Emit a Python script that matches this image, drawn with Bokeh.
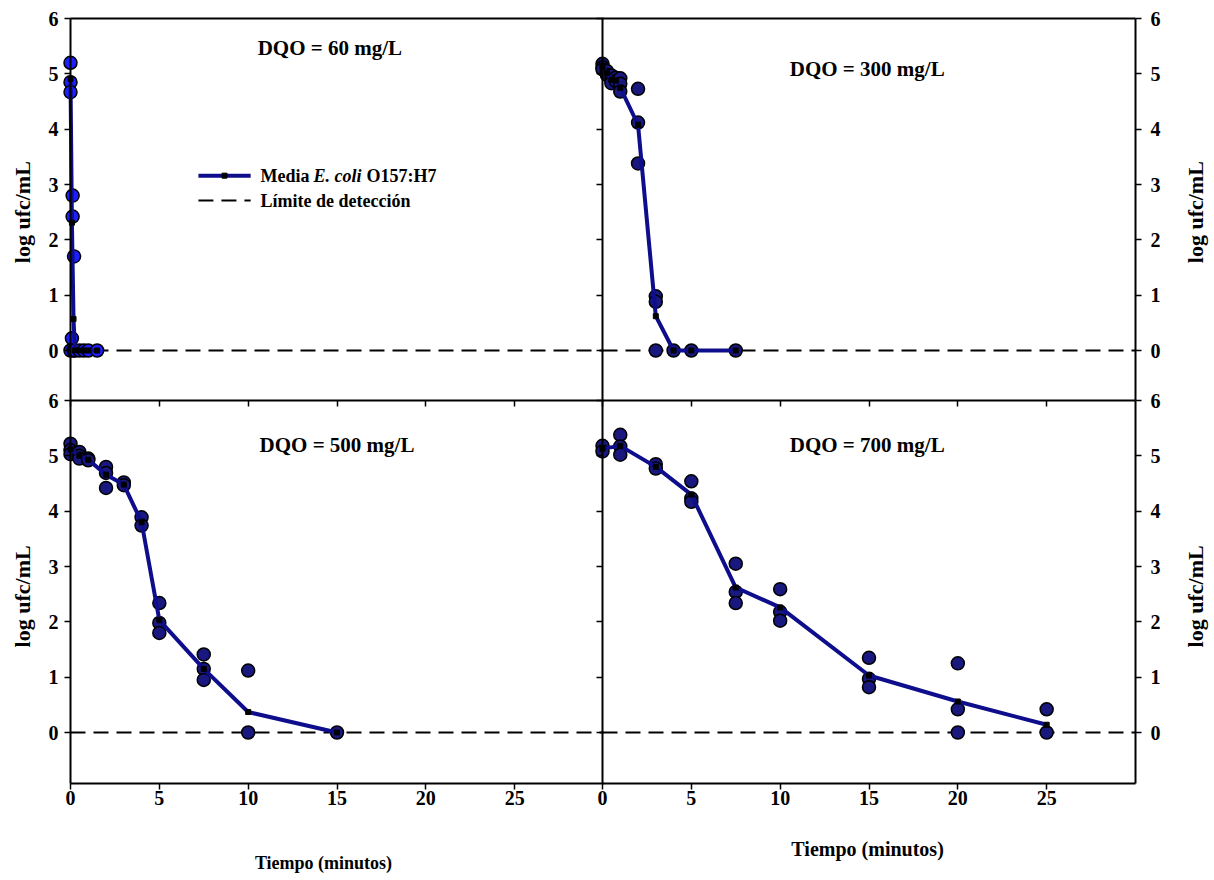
import math
from bokeh.plotting import figure
from bokeh.models import Range1d, LinearAxis, FixedTicker, Label
from bokeh.core.properties import value
from bokeh.embed import file_html
from bokeh.resources import INLINE

# ---------------- data ----------------
# DQO = 60 mg/L
T60 = [0, 0, 0, 0.12, 0.12, 0.2, 0.08, 0, 0.17, 0.25, 0.5, 0.75, 1.0, 1.5]
Y60 = [5.2, 4.85, 4.67, 2.8, 2.42, 1.7, 0.22, 0, 0, 0, 0, 0, 0, 0]
M60_T = [0, 0.08, 0.17, 0.25, 0.5, 0.75, 1.0, 1.5]
M60_Y = [4.91, 2.31, 0.57, 0, 0, 0, 0, 0]

# DQO = 300 mg/L
T300 = [0, 0, 0, 0.25, 0.25, 0.5, 0.5, 0.5, 0.75, 0.75, 1, 1, 1, 2, 2, 2, 3, 3, 3, 4, 5, 7.5]
Y300 = [5.18, 5.12, 5.08, 5.05, 4.98, 4.97, 4.88, 4.83, 4.93, 4.87, 4.92, 4.82, 4.68,
        4.73, 4.12, 3.38, 0.98, 0.88, 0, 0, 0, 0]
M300_T = [0, 0.25, 0.5, 0.75, 1, 2, 3, 4, 5, 7.5]
M300_Y = [5.13, 5.02, 4.89, 4.88, 4.75, 4.08, 0.62, 0, 0, 0]

# DQO = 500 mg/L
T500 = [0, 0, 0, 0.5, 0.5, 0.5, 1, 1, 2, 2, 2, 3, 3, 4, 4, 5, 5, 5, 7.5, 7.5, 7.5, 10, 10, 15]
Y500 = [5.22, 5.1, 5.03, 5.07, 5.0, 4.95, 4.95, 4.92, 4.8, 4.69, 4.42, 4.52, 4.47,
        3.89, 3.74, 2.34, 1.98, 1.8, 1.41, 1.15, 0.95, 1.12, 0, 0]
M500_T = [0, 0.5, 1, 2, 3, 4, 5, 7.5, 10, 15]
M500_Y = [5.12, 5.0, 4.93, 4.66, 4.48, 3.8, 2.03, 1.15, 0.37, 0]

# DQO = 700 mg/L
T700 = [0, 0, 1, 1, 1, 3, 3, 5, 5, 5, 7.5, 7.5, 7.5, 10, 10, 10, 15, 15, 15, 20, 20, 20, 25, 25]
Y700 = [5.18, 5.08, 5.38, 5.17, 5.02, 4.85, 4.77, 4.54, 4.23, 4.17, 3.05, 2.54, 2.34,
        2.59, 2.18, 2.02, 1.35, 0.97, 0.82, 1.25, 0.42, 0, 0.42, 0]
M700_T = [0, 1, 3, 5, 7.5, 10, 15, 20, 25]
M700_Y = [5.13, 5.18, 4.8, 4.3, 2.62, 2.26, 1.03, 0.56, 0.14]

LOD = 0  # límite de detección (log ufc/mL)
TITLES = ["DQO = 60 mg/L", "DQO = 300 mg/L", "DQO = 500 mg/L", "DQO = 700 mg/L"]
X_TICKS = [0, 5, 10, 15, 20, 25]
Y_TICKS = [0, 1, 2, 3, 4, 5, 6]
X_LABEL = "Tiempo (minutos)"
Y_LABEL = "log ufc/mL"
LEG_MEAN = ["Media", "E. coli", "O157:H7"]
LEG_LOD = "Límite de detección"

# ---------------- layout / style ----------------
FONT = "Liberation Serif"
LINE_C = "#0e0e8c"
FILL_C = "#18187f"
FILL_60 = "#1e1eff"

FIG_W, FIG_H = 1210, 876
KX = 533 / 30.0       # px per minute
KY = 332 / 6.0        # px per log unit
PX_L0, PX_R0 = 70, 602        # px of x=0 for left / right panels
PX_T6, PX_B6 = 18, 400        # px of y=6 for top / bottom panels
PX_BOTTOM = 783               # px of bottom frame line
XMAX = 30

xl = Range1d(-PX_L0 / KX, (FIG_W - PX_L0) / KX)
xr = Range1d(-PX_R0 / KX, (FIG_W - PX_R0) / KX)
yt = Range1d(6 - (FIG_H - PX_T6) / KY, 6 + PX_T6 / KY)
yb = Range1d(6 - (FIG_H - PX_B6) / KY, 6 + PX_B6 / KY)
YT_LOW = 6 - (PX_B6 - PX_T6) / KY
YB_LOW = 6 - (PX_BOTTOM - PX_B6) / KY

p = figure(width=FIG_W, height=FIG_H,
           x_range=xl, y_range=yt, output_backend="svg", toolbar_location=None,
           x_axis_location=None, y_axis_location=None,
           min_border=0, min_border_left=0, min_border_right=0,
           min_border_top=0, min_border_bottom=0)
p.extra_x_ranges = {"xr": xr}
p.extra_y_ranges = {"yb": yb}
p.outline_line_color = None
p.grid.grid_line_color = None
p.background_fill_color = "white"
p.border_fill_color = "white"


def add_axis(side, xname, yname, fixed, ticks, bounds, tick_in=0, tick_out=6,
             labels=True, standoff=6):
    kw = dict(x_range_name=xname, y_range_name=yname, fixed_location=fixed,
              ticker=FixedTicker(ticks=ticks), bounds=bounds,
              major_tick_in=tick_in, major_tick_out=tick_out,
              minor_tick_in=0, minor_tick_out=0,
              axis_line_width=2, axis_line_color="black",
              major_tick_line_width=1.5, major_tick_line_color="black",
              major_label_standoff=standoff,
              major_label_text_font=FONT, major_label_text_font_size="20px",
              major_label_text_font_style="bold", major_label_text_color="black")
    if not labels:
        kw["major_label_overrides"] = {t: "" for t in ticks}
    ax = LinearAxis(**kw)
    p.add_layout(ax, side)
    return ax


# left y axes (left panels, at x = 0)
add_axis("left", "default", "default", 0, Y_TICKS, (YT_LOW, 6))
add_axis("left", "default", "yb", 0, Y_TICKS, (YB_LOW, 6))
# middle y axes (right panels, at x = 0, no labels)
add_axis("left", "xr", "default", 0, Y_TICKS, (YT_LOW, 6), labels=False)
add_axis("left", "xr", "yb", 0, Y_TICKS, (YB_LOW, 6), labels=False)
# right y axes
add_axis("right", "xr", "default", XMAX, Y_TICKS, (YT_LOW, 6), standoff=9)
add_axis("right", "xr", "yb", XMAX, Y_TICKS, (YB_LOW, 6), standoff=9)
# top border
add_axis("above", "default", "default", 6, [], (0, XMAX), tick_out=0, labels=False)
add_axis("above", "xr", "default", 6, [], (0, XMAX), tick_out=0, labels=False)
# middle horizontal line with inward ticks
add_axis("above", "default", "yb", 6, X_TICKS, (0, XMAX), tick_in=6, tick_out=0, labels=False)
add_axis("above", "xr", "yb", 6, X_TICKS, (0, XMAX), tick_in=6, tick_out=0, labels=False)
# bottom x axes
add_axis("below", "default", "yb", YB_LOW, X_TICKS, (0, XMAX), standoff=1)
add_axis("below", "xr", "yb", YB_LOW, X_TICKS, (0, XMAX), standoff=1)

panels = [
    (T60, Y60, M60_T, M60_Y, "default", "default", FILL_60, TITLES[0], 14.6, 5.47),
    (T300, Y300, M300_T, M300_Y, "xr", "default", FILL_C, TITLES[1], 14.9, 5.09),
    (T500, Y500, M500_T, M500_Y, "default", "yb", FILL_C, TITLES[2], 15.0, 5.19),
    (T700, Y700, M700_T, M700_Y, "xr", "yb", FILL_C, TITLES[3], 14.9, 5.19),
]

for tx, ty, mt, my, xn, yn, fc, title, tx0, ty0 in panels:
    # detection limit
    p.segment(x0=[0], y0=[LOD], x1=[XMAX], y1=[LOD], line_color="black", line_width=2,
              line_dash="15 8", x_range_name=xn, y_range_name=yn)
    # replicate points
    p.scatter(tx, ty, size=13, fill_color=fc, line_color="black", line_width=1.5,
              x_range_name=xn, y_range_name=yn)
    # mean line
    p.line(mt, my, line_color=LINE_C, line_width=4, x_range_name=xn, y_range_name=yn)
    p.scatter(mt, my, marker="square", size=5, fill_color="black", line_color="black",
              x_range_name=xn, y_range_name=yn)
    # panel title
    p.text(x=[tx0], y=[ty0], text=[title], text_font=value(FONT), text_font_style="bold",
           text_font_size="21px", text_align="center", text_baseline="middle",
           text_color="black", x_range_name=xn, y_range_name=yn)

# legend (top-left panel)
LX0, LX1, LXT, LY1, LY2 = 7.2, 10.14, 10.7, 3.16, 2.71
p.line([LX0, LX1], [LY1, LY1], line_color=LINE_C, line_width=4)
p.scatter([(LX0 + LX1) / 2], [LY1], marker="square", size=5, color="black")
p.line([LX0, LX1], [LY2, LY2], line_color="black", line_width=2, line_dash="15 8")
for txt, off, style in zip(LEG_MEAN, [0, 53, 106], ["bold", "bold italic", "bold"]):
    p.text(x=[LXT], y=[LY1], text=[txt], x_offset=off, text_font=value(FONT),
           text_font_style=style, text_font_size="18px", text_align="left",
           text_baseline="middle", text_color="black")
p.text(x=[LXT], y=[LY2], text=[LEG_LOD], text_font=value(FONT), text_font_style="bold",
       text_font_size="18px", text_align="left", text_baseline="middle", text_color="black")


# axis titles
def add_label(x, y, xn, yn, text, angle, size):
    p.add_layout(Label(x=x, y=y, x_range_name=xn, y_range_name=yn, text=text, angle=angle,
                       text_align="center", text_baseline="middle", text_font=FONT,
                       text_font_size=size, text_font_style="bold", text_color="black"))


add_label(-2.7, 2.5, "default", "default", Y_LABEL, math.pi / 2, "22px")
add_label(-2.7, 2.46, "default", "yb", Y_LABEL, math.pi / 2, "22px")
add_label(33.4, 2.5, "xr", "default", Y_LABEL, math.pi / 2, "22px")
add_label(33.4, 2.46, "xr", "yb", Y_LABEL, math.pi / 2, "22px")
add_label(14.24, -2.35, "default", "yb", X_LABEL, 0, "18px")
add_label(14.92, -2.10, "xr", "yb", X_LABEL, 0, "20px")

open("out.html", "w").write(file_html(p, INLINE))
